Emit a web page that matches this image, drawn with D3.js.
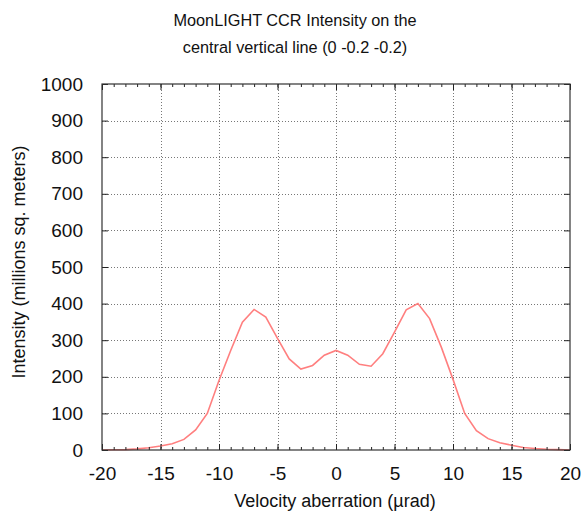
<!DOCTYPE html>
<html>
<head>
<meta charset="utf-8">
<script src="https://cdn.jsdelivr.net/npm/d3@7"></script>
<style>
  body { margin: 0; background: #fff; }
  svg { display: block; font-family: Arial, "Liberation Sans", sans-serif; }
</style>
</head>
<body>
<svg id="chart" width="583" height="516"></svg>
<script>
// velocity aberration (urad) and intensity
const aberration = d3.range(-20, 21)
const intensity = [
  0, 0.5, 1, 3, 6, 11, 17, 29, 55, 100,
  190, 272, 349, 384, 363, 305, 249, 221, 231, 259,
  272,
  259, 234, 229, 263, 322, 383, 400, 359, 281,
  193, 100, 53, 31, 20, 13, 7, 4, 2, 1, 0
]
const xTicks = [-20, -15, -10, -5, 0, 5, 10, 15, 20]
const yTicks = [0, 100, 200, 300, 400, 500, 600, 700, 800, 900, 1000]
const titleLines = ['MoonLIGHT CCR Intensity on the', 'central vertical line (0 -0.2 -0.2)']

const data = aberration.map((a, i) => ({x: a, y: intensity[i]}))

const margin = {top: 84, right: 13, bottom: 66, left: 102}
const width = 583, height = 516

const svg = d3.select('#chart')

const x = d3.scaleLinear().domain([-20, 20]).range([margin.left, width - margin.right])
const y = d3.scaleLinear().domain([0, 1000]).range([height - margin.bottom, margin.top])

// plain hyphen minus, no thousands comma
const fmt = d => String(d)

// dotted grid
const grid = svg.append('g')
  .attr('stroke', '#777')
  .attr('stroke-width', 1)
  .attr('stroke-dasharray', '1,2')
grid.selectAll('.gx')
  .data(xTicks.slice(1, -1))
  .join('line')
    .attr('x1', d => Math.round(x(d)) + 0.5)
    .attr('x2', d => Math.round(x(d)) + 0.5)
    .attr('y1', y(1000))
    .attr('y2', y(0))
grid.selectAll('.gy')
  .data(yTicks.slice(1, -1))
  .join('line')
    .attr('x1', x(-20))
    .attr('x2', x(20))
    .attr('y1', d => Math.round(y(d)) + 0.5)
    .attr('y2', d => Math.round(y(d)) + 0.5)

// the curve
svg.append('path')
  .datum(data)
  .attr('fill', 'none')
  .attr('stroke', '#ff7f7f')
  .attr('stroke-width', 1.6)
  .attr('d', d3.line().x(d => x(d.x)).y(d => y(d.y)))

// axes with inward ticks, mirrored on top and right
const minor = d3.range(-20, 21)
function styleAxis(g) {
  g.select('.domain').remove()
  g.selectAll('line').attr('stroke', '#222')
  g.selectAll('text').attr('fill', '#111').style('font-size', '19px')
}

svg.append('g')
  .attr('transform', `translate(0,${y(0)})`)
  .call(d3.axisBottom(x).tickValues(minor).tickSize(-3).tickFormat(''))
  .call(g => { g.select('.domain').remove(); g.selectAll('line').attr('stroke', '#222') })
svg.append('g')
  .attr('transform', `translate(0,${y(0)})`)
  .call(d3.axisBottom(x).tickValues(xTicks).tickSize(-6).tickPadding(17).tickFormat(fmt))
  .call(styleAxis)

svg.append('g')
  .attr('transform', `translate(0,${y(1000)})`)
  .call(d3.axisTop(x).tickValues(minor).tickSize(-3).tickFormat(''))
  .call(g => { g.select('.domain').remove(); g.selectAll('line').attr('stroke', '#222') })
svg.append('g')
  .attr('transform', `translate(0,${y(1000)})`)
  .call(d3.axisTop(x).tickValues(xTicks).tickSize(-6).tickFormat(''))
  .call(styleAxis)

svg.append('g')
  .attr('transform', `translate(${x(-20)},0)`)
  .call(d3.axisLeft(y).tickValues(yTicks).tickSize(-6).tickPadding(19).tickFormat(fmt))
  .call(styleAxis)
svg.append('g')
  .attr('transform', `translate(${x(20)},0)`)
  .call(d3.axisRight(y).tickValues(yTicks).tickSize(-6).tickFormat(''))
  .call(styleAxis)

// frame
svg.append('rect')
  .attr('x', x(-20))
  .attr('y', y(1000))
  .attr('width', x(20) - x(-20))
  .attr('height', y(0) - y(1000))
  .attr('fill', 'none')
  .attr('stroke', '#333')
  .attr('stroke-width', 1.2)

// title
svg.append('g')
  .selectAll('text')
  .data(titleLines)
  .join('text')
    .attr('x', 295)
    .attr('y', (d, i) => 26 + i * 27)
    .attr('text-anchor', 'middle')
    .attr('fill', '#111')
    .style('font-size', '16.3px')
    .text(d => d)

// axis labels
svg.append('text')
  .attr('x', 335)
  .attr('y', 507)
  .attr('text-anchor', 'middle')
  .attr('fill', '#111')
  .style('font-size', '18px')
  .text('Velocity aberration (\u00b5rad)')

svg.append('text')
  .attr('transform', 'translate(25,262) rotate(-90)')
  .attr('text-anchor', 'middle')
  .attr('fill', '#111')
  .style('font-size', '18px')
  .text('Intensity (millions sq. meters)')
</script>
</body>
</html>
